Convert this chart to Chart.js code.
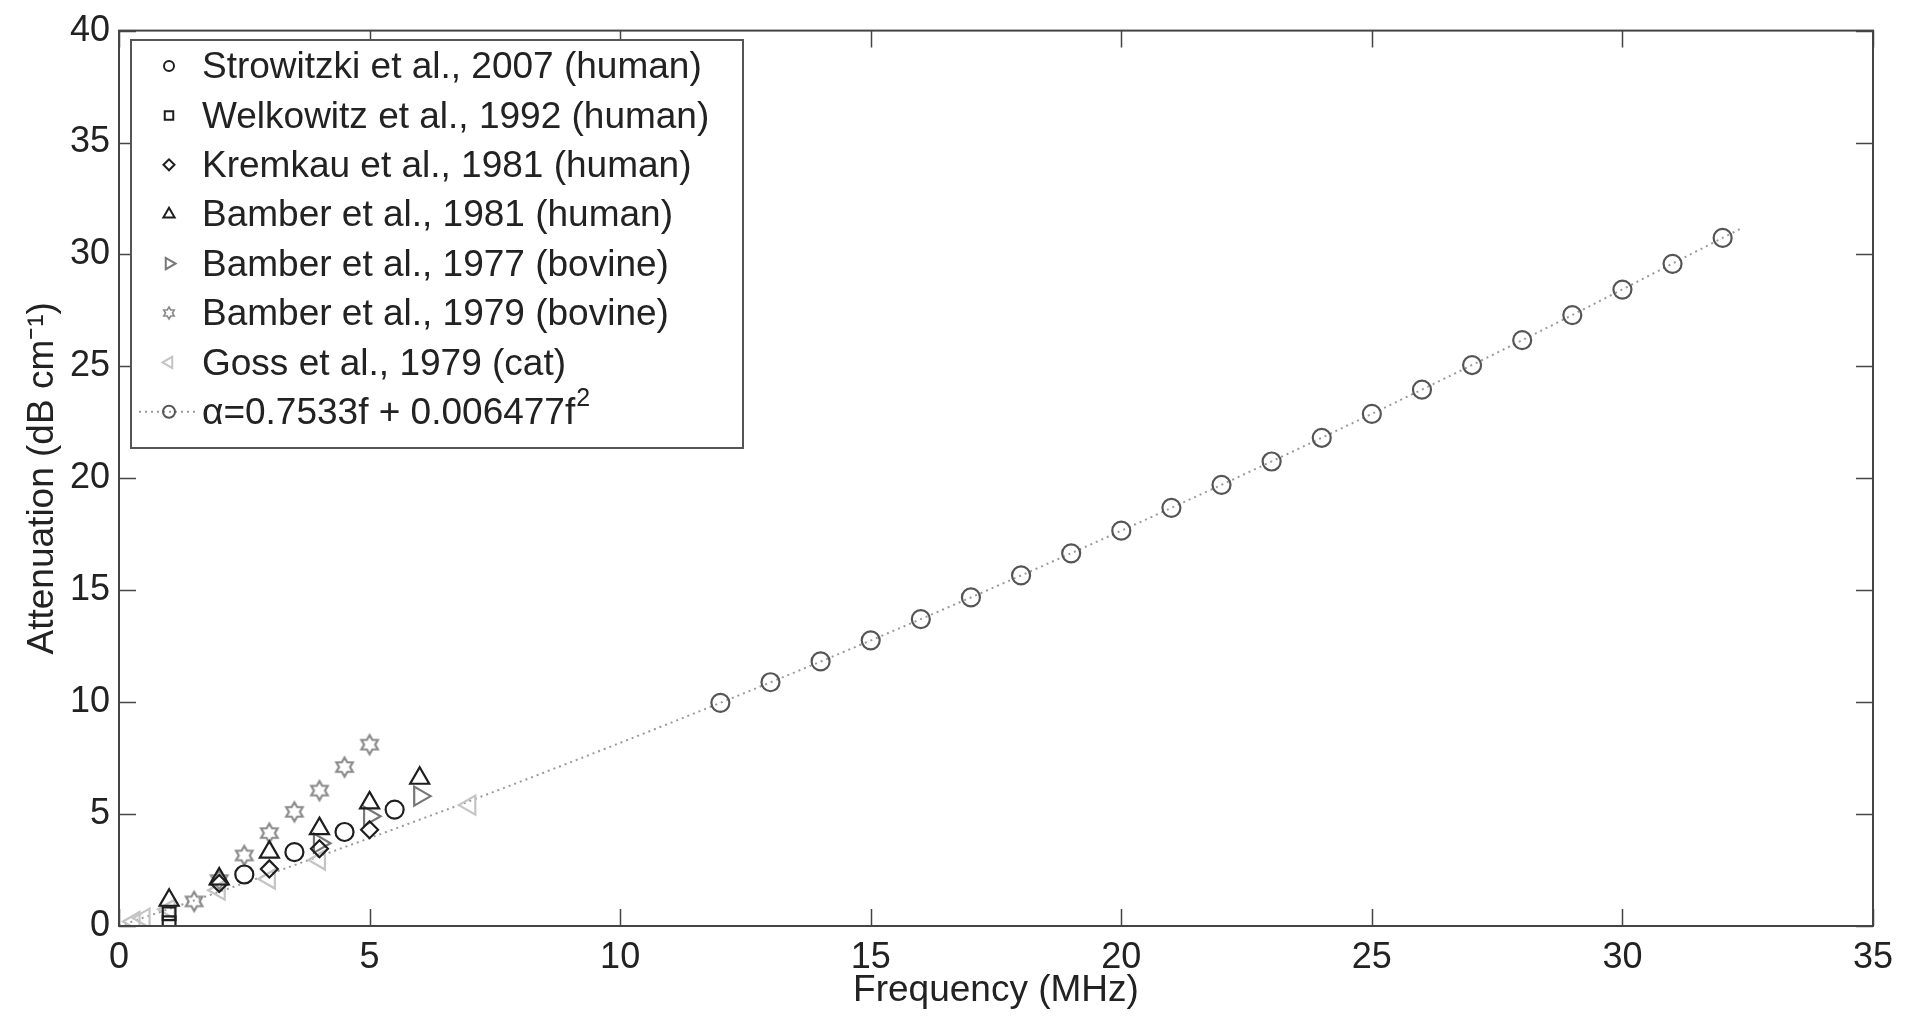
<!DOCTYPE html>
<html>
<head>
<meta charset="utf-8">
<script src="https://cdn.jsdelivr.net/npm/chart.js@4.4.1/dist/chart.umd.min.js"></script>
<style>
  html,body{margin:0;padding:0;background:#fff;}
  #wrap{width:1919px;height:1018px;}
</style>
</head>
<body>
<div id="wrap"><canvas id="c" width="1919" height="1018"></canvas></div>
<script>
// --- data ---
const freqStrowitzki = [2.5, 3.5, 4.5, 5.5];
const attStrowitzki  = [2.3, 3.3, 4.2, 5.2];

const freqWelkowitz = [1, 1];
const attWelkowitz  = [0.55, 0.15];

const freqKremkau = [2, 3, 4, 5];
const attKremkau  = [1.9, 2.55, 3.45, 4.3];

const freqBamber81 = [1, 2, 3, 4, 5, 6];
const attBamber81  = [1.15, 2.1, 3.3, 4.35, 5.5, 6.6];

const freqBamber77 = [4, 5, 6];
const attBamber77  = [3.7, 4.9, 5.8];

const freqBamber79 = [1.5, 2, 2.5, 3, 3.5, 4, 4.5, 5];
const attBamber79  = [1.1, 2.05, 3.15, 4.15, 5.1, 6.05, 7.1, 8.1];

const freqGoss = [0.3, 0.5, 1, 2, 3, 4, 7];
const attGoss  = [0.2, 0.35, 0.75, 1.6, 2.1, 2.95, 5.4];

const freqFit = [12, 13, 14, 15, 16, 17, 18, 19, 20, 21, 22, 23, 24, 25, 26, 27, 28, 29, 30, 31, 32];
const attFit  = [9.97, 10.89, 11.82, 12.76, 13.71, 14.68, 15.66, 16.65, 17.66, 18.68, 19.71,
                 20.75, 21.81, 22.88, 23.96, 25.06, 26.17, 27.29, 28.43, 29.58, 30.74];

// dotted fit curve
const freqCurve = [0, 2, 4, 6, 8, 12, 16, 20, 24, 28, 32.4];
const attCurve  = [0, 1.53, 3.12, 4.75, 6.44, 9.97, 13.71, 17.66, 21.81, 26.17, 31.2];

const xTicks = [0, 5, 10, 15, 20, 25, 30, 35];
const yTicks = [0, 5, 10, 15, 20, 25, 30, 35, 40];

const legendLabels = [
  'Strowitzki et al., 2007 (human)',
  'Welkowitz et al., 1992 (human)',
  'Kremkau et al., 1981 (human)',
  'Bamber et al., 1981 (human)',
  'Bamber et al., 1977 (bovine)',
  'Bamber et al., 1979 (bovine)',
  'Goss et al., 1979 (cat)',
  'α=0.7533f + 0.006477f'
];

const FONT = "'Liberation Sans', Arial, sans-serif";
const INK = '#222';

function pts(xs, ys){ return xs.map((x,i)=>({x:x, y:ys[i]})); }

// six-point star marker
function hexagram(r, color, lw){
  const s = Math.ceil(r*2 + lw*2 + 2);
  const cv = document.createElement('canvas'); cv.width = s; cv.height = s;
  const g = cv.getContext('2d');
  const cx = s/2, cy = s/2;
  g.beginPath();
  for(let i=0;i<12;i++){
    const a = -Math.PI/2 + i*Math.PI/6;
    const rr = i%2===0 ? r : r*0.58;
    const px = cx + Math.cos(a)*rr, py = cy + Math.sin(a)*rr;
    if(i===0) g.moveTo(px,py); else g.lineTo(px,py);
  }
  g.closePath();
  g.strokeStyle = color; g.lineWidth = lw; g.stroke();
  return cv;
}
const starBig = hexagram(9.5, '#8a8a8a', 2.2);
const starSmall = hexagram(6, '#8a8a8a', 1.6);

const series = [
  {data: pts(freqStrowitzki, attStrowitzki), pointStyle:'circle', color:'#1e1e1e', r:9, lw:2.2, lr:5},
  {data: pts(freqWelkowitz, attWelkowitz), pointStyle:'rect', color:'#1e1e1e', r:9, lw:2.2, lr:6},
  {data: pts(freqKremkau, attKremkau), pointStyle:'rectRot', color:'#1e1e1e', r:8.5, lw:2.2, lr:5.5},
  {data: pts(freqBamber81, attBamber81), pointStyle:'triangle', color:'#1e1e1e', r:11, lw:2.2, lr:6.5},
  {data: pts(freqBamber77, attBamber77), pointStyle:'triangle', rot:90, color:'#777', r:11, lw:2.2, lr:6.5},
  {data: pts(freqBamber79, attBamber79), pointStyle:starBig, legendStyle:starSmall, color:'#8a8a8a', r:9, lw:2, lr:6},
  {data: pts(freqGoss, attGoss), pointStyle:'triangle', rot:-90, color:'#c4c4c4', r:11, lw:2.2, lr:6.5},
  {data: pts(freqFit, attFit), pointStyle:'circle', color:'#555', r:9, lw:2.2, lr:6}
];

const datasets = series.map(s => ({
  data: s.data,
  showLine: false,
  pointStyle: s.pointStyle,
  pointRotation: s.rot || 0,
  pointRadius: s.r,
  pointBorderWidth: s.lw,
  pointBorderColor: s.color,
  pointBackgroundColor: 'rgba(0,0,0,0)',
  borderColor: s.color
}));
// dotted curve drawn underneath
datasets.push({
  data: pts(freqCurve, attCurve),
  showLine: true,
  pointRadius: 0,
  borderColor: '#9a9a9a',
  borderWidth: 2,
  borderDash: [2, 4],
  cubicInterpolationMode: 'monotone',
  order: 10
});

// frame, inward ticks and the boxed legend
const framePlugin = {
  id: 'frame',
  afterDraw(chart){
    const {ctx, chartArea: a, scales} = chart;
    ctx.save();
    ctx.strokeStyle = '#444'; ctx.lineWidth = 2;
    ctx.strokeRect(a.left, a.top, a.right - a.left, a.bottom - a.top);
    const tl = 17;
    ctx.lineWidth = 1.5;
    ctx.beginPath();
    scales.x.ticks.forEach(t => {
      const px = Math.round(scales.x.getPixelForValue(t.value)) + 0.5;
      ctx.moveTo(px, a.bottom); ctx.lineTo(px, a.bottom - tl);
      ctx.moveTo(px, a.top); ctx.lineTo(px, a.top + tl);
    });
    scales.y.ticks.forEach(t => {
      const py = Math.round(scales.y.getPixelForValue(t.value)) + 0.5;
      ctx.moveTo(a.left, py); ctx.lineTo(a.left + tl, py);
      ctx.moveTo(a.right, py); ctx.lineTo(a.right - tl, py);
    });
    ctx.stroke();

    // legend
    const bx = 131, by = 40, bw = 612, bh = 408;
    ctx.fillStyle = '#fff';
    ctx.fillRect(bx, by, bw, bh);
    ctx.strokeStyle = '#555'; ctx.lineWidth = 2;
    ctx.strokeRect(bx, by, bw, bh);
    const rowY0 = 66, rowH = 49.4, symX = 169, txtX = 202;
    ctx.textBaseline = 'middle';
    ctx.textAlign = 'left';
    legendLabels.forEach((lab, i) => {
      const s = series[i];
      const y = rowY0 + i*rowH;
      if(i === legendLabels.length - 1){
        ctx.save();
        ctx.strokeStyle = '#9a9a9a'; ctx.lineWidth = 2; ctx.setLineDash([2,4]);
        ctx.beginPath(); ctx.moveTo(symX - 30, y); ctx.lineTo(symX + 28, y); ctx.stroke();
        ctx.restore();
      }
      ctx.strokeStyle = s.color; ctx.lineWidth = 2;
      ctx.fillStyle = 'rgba(0,0,0,0)';
      Chart.helpers.drawPoint(ctx, {pointStyle: s.legendStyle || s.pointStyle, rotation: s.rot || 0, radius: s.lr, borderWidth: 2}, symX, y);
      ctx.fillStyle = INK;
      ctx.font = '37px ' + FONT;
      ctx.fillText(lab, txtX, y + 2);
      if(i === legendLabels.length - 1){
        const w = ctx.measureText(lab).width;
        ctx.font = '25px ' + FONT;
        ctx.fillText('2', txtX + w + 1, y - 13);
      }
    });
    ctx.restore();
  }
};

new Chart(document.getElementById('c'), {
  type: 'scatter',
  data: { datasets: datasets },
  options: {
    responsive: false,
    animation: false,
    layout: { padding: { top: 27, right: 46, left: 0, bottom: 0 } },
    plugins: { legend: { display: false }, tooltip: { enabled: false } },
    scales: {
      x: {
        type: 'linear', min: 0, max: 35,
        afterBuildTicks: s => { s.ticks = xTicks.map(v => ({value: v})); },
        afterFit: s => { s.height = 92; },
        grid: { display: false, drawTicks: false },
        border: { display: false },
        ticks: { color: INK, padding: 10, font: { family: FONT, size: 36 }, maxRotation: 0 },
        title: { display: true, text: 'Frequency (MHz)', color: INK, padding: { top: 0, bottom: 5 }, font: { family: FONT, size: 37 } }
      },
      y: {
        type: 'linear', min: 0, max: 40,
        afterBuildTicks: s => { s.ticks = yTicks.map(v => ({value: v})); },
        afterFit: s => { s.width = 119; },
        grid: { display: false, drawTicks: false },
        border: { display: false },
        ticks: { color: INK, padding: 9, font: { family: FONT, size: 36 } },
        title: { display: true, text: 'Attenuation (dB cm⁻¹)', color: INK, padding: { top: 21, bottom: 0 }, font: { family: FONT, size: 37 } }
      }
    }
  },
  plugins: [framePlugin]
});
</script>
</body>
</html>
